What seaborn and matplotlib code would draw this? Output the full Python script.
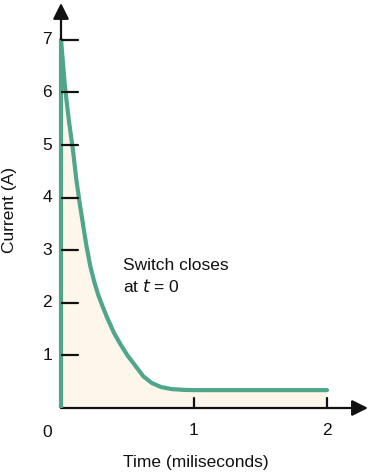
import matplotlib
matplotlib.use("Agg")
import matplotlib.pyplot as plt
import seaborn as sns
import pandas as pd

sns.set_theme(style="white")
plt.rcParams['font.family'] = ['Liberation Sans', 'DejaVu Sans']

# current decay after the switch closes
time_ms = [0.0, 0.03, 0.06, 0.09, 0.115, 0.14, 0.165, 0.19, 0.22, 0.25, 0.28, 0.31, 0.35,
           0.40, 0.45, 0.50, 0.56, 0.62, 0.68, 0.75, 0.83, 0.92, 1.0, 1.5, 2.0]
current = [7.0, 6.1, 5.45, 4.9, 4.35, 3.9, 3.5, 3.1, 2.7, 2.4, 2.15, 1.95, 1.7,
           1.42, 1.2, 1.0, 0.8, 0.6, 0.48, 0.4, 0.36, 0.345, 0.34, 0.34, 0.34]
y_ticks = [1, 2, 3, 4, 5, 6, 7]
x_ticks = [1, 2]

green = "#4FA68A"
fill = "#FCF7EA"

df = pd.DataFrame({"t": time_ms, "i": current})

fig = plt.figure(figsize=(3.7, 4.73), dpi=100)
ax = fig.add_axes([61 / 370, 65 / 473, 307 / 370, 405 / 473])
ax.set_xlim(0, 307 / 133)
ax.set_ylim(0, 405 / 52.6)

ax.fill_between(df["t"], 0, df["i"], color=fill, lw=0, zorder=1)
sns.lineplot(data=df, x="t", y="i", color=green, lw=3, ax=ax, zorder=3, clip_on=False)
ax.plot([0, 0], [0, 7], color=green, lw=3, zorder=4, solid_capstyle="butt", clip_on=False)

for s in ax.spines.values():
    s.set_visible(False)
ax.set_xticks([])
ax.set_yticks([])
ax.set_xlabel("")
ax.set_ylabel("")

# axes with arrow heads
ax.annotate("", xy=(0, 405 / 52.6), xytext=(0, 6.9), annotation_clip=False,
            arrowprops=dict(arrowstyle="-|>", color="#111111", lw=1.6, mutation_scale=24, shrinkA=0, shrinkB=0))
ax.annotate("", xy=(307 / 133, 0), xytext=(0, 0), annotation_clip=False,
            arrowprops=dict(arrowstyle="-|>", color="#111111", lw=1.6, mutation_scale=24, shrinkA=0, shrinkB=0))

for v in y_ticks:
    ax.plot([0, 17 / 133], [v, v], color="#111111", lw=1.6, zorder=5)
    ax.text(-14 / 133, v, str(v), ha="center", va="center", fontsize=12.5, color="#111111")
for v in x_ticks:
    ax.plot([v, v], [0, 10 / 52.6], color="#111111", lw=1.6, zorder=5)
    ax.text(v, -22 / 52.6, str(v), ha="center", va="center", fontsize=12.5, color="#111111")
ax.text(-14 / 133, -24 / 52.6, "0", ha="center", va="center", fontsize=12.5, color="#111111")

ax.text(62 / 133, 2.5, "Switch closes\nat $\\it{t}$ = 0", ha="left", va="center",
        fontsize=12.5, color="#111111", linespacing=1.3)
fig.text(10 / 370, 1 - 210 / 473, "Current (A)", rotation=90, ha="center", va="center",
         fontsize=12.5, color="#111111")
fig.text(196 / 370, 1 - 462 / 473, "Time (miliseconds)", ha="center", va="center",
         fontsize=12.5, color="#111111")

fig.savefig("out.png", dpi=100)
